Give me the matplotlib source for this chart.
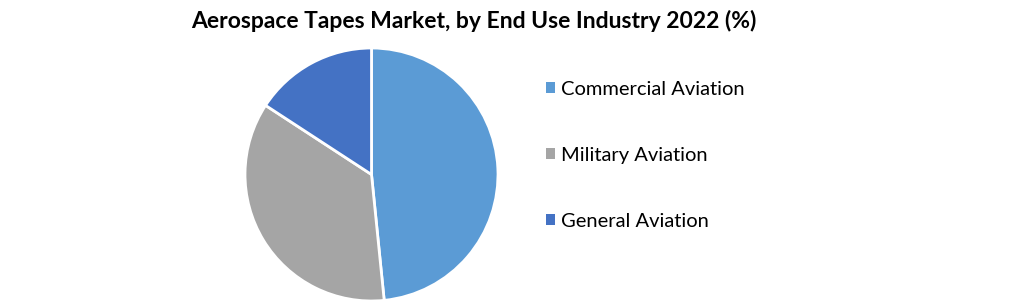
import matplotlib.pyplot as plt
from matplotlib.patches import Patch

labels = ['Commercial Aviation', 'Military Aviation', 'General Aviation']
shares = [48.4, 35.8, 15.8]
colors = ['#5B9BD5', '#A5A5A5', '#4472C4']

plt.rcParams['font.family'] = ['Lato', 'DejaVu Sans']

W, H = 1021, 304
fig = plt.figure(figsize=(W / 100, H / 100), dpi=100)

# pie axes: square placed in pixel coords
cx, cy, r = 371.5, 174.5, 126.5
ax = fig.add_axes([(cx - r) / W, (H - cy - r) / H, 2 * r / W, 2 * r / H])
ax.pie(shares, colors=colors, startangle=90, counterclock=False,
       wedgeprops=dict(edgecolor='white', linewidth=2))
ax.set_xlim(-1, 1)
ax.set_ylim(-1, 1)
ax.set_aspect('auto')
ax.axis('off')

fig.text(473.5 / W, 1 - 21 / H, 'Aerospace Tapes Market, by End Use Industry 2022 (%)',
         ha='center', va='center', fontsize=16.5, fontweight='bold')

handles = [Patch(facecolor=c, edgecolor='none') for c in colors]
fig.legend(handles, labels, loc='upper left', bbox_to_anchor=(536 / W, 1 - 71 / H),
           frameon=False, fontsize=14.5, handlelength=0.45, handleheight=0.45,
           handletextpad=0.3, labelspacing=2.42, borderpad=0)

fig.savefig('out.png', dpi=100)
